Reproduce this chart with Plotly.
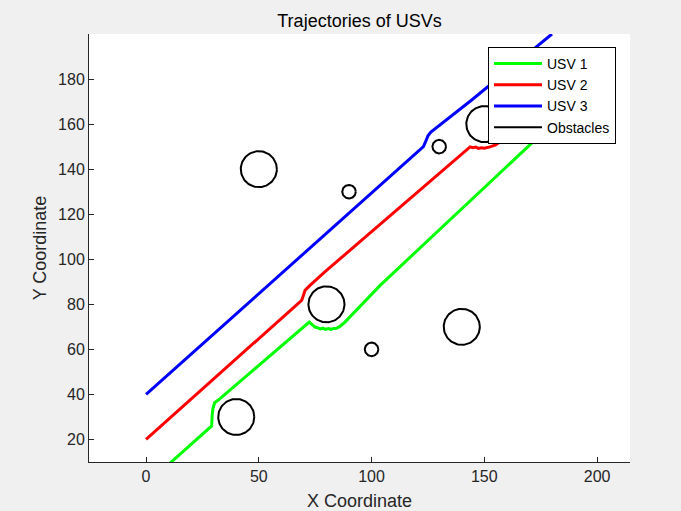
import numpy as np
import plotly.graph_objects as go

# ---- data ----
usv1_x = [0, 29.1, 29.3, 29.6, 30.4, 32.8, 72.4, 73.6, 74.9, 76.0, 77.2, 78.4, 79.6, 80.8, 82.0, 83.2, 84.5, 86.0, 88.2, 103.8, 180]
usv1_y = [0, 26.0, 30.5, 33.5, 36.3, 38.1, 72.1, 70.9, 69.9, 69.6, 69.1, 69.4, 68.9, 69.2, 68.9, 69.3, 69.4, 70.2, 72.1, 88.4, 160]

usv2_x = [0, 69.0, 69.8, 70.5, 72.7, 79.4, 143.7, 145.0, 146.2, 147.4, 148.6, 150.0, 152.5, 155.0, 157.0, 159.2, 161.4, 180]
usv2_y = [20, 81.8, 84.0, 86.2, 88.4, 94.5, 149.9, 149.5, 149.8, 149.2, 149.5, 149.3, 149.9, 150.8, 152.1, 154.4, 155.9, 180]

usv3_x = [0, 123.0, 124.0, 125.0, 126.3, 128.0, 144.4, 180]
usv3_y = [40, 150.0, 152.3, 154.8, 156.5, 157.8, 170.7, 200]

obs_x = [40, 80, 50, 90, 100, 140, 130, 150]
obs_y = [30, 80, 140, 130, 60, 70, 150, 160]
obs_r = [8, 8, 8, 3, 3, 8, 3, 8]

x_ticks = [0, 50, 100, 150, 200]
y_ticks = [20, 40, 60, 80, 100, 120, 140, 160, 180]

# ---- build obstacle outlines ----
t = np.linspace(0, 2 * np.pi, 121)
cx, cy = [], []
for ox, oy, r in zip(obs_x, obs_y, obs_r):
    cx += list(ox + r * np.cos(t)) + [None]
    cy += list(oy + r * np.sin(t)) + [None]

font = "Liberation Sans, Arial, Helvetica, sans-serif"
axis_col = "#262626"

fig = go.Figure()
fig.add_trace(go.Scatter(x=usv1_x, y=usv1_y, mode="lines", name="USV 1",
                         line=dict(color="#00FF00", width=3)))
fig.add_trace(go.Scatter(x=usv2_x, y=usv2_y, mode="lines", name="USV 2",
                         line=dict(color="#FF0000", width=3)))
fig.add_trace(go.Scatter(x=usv3_x, y=usv3_y, mode="lines", name="USV 3",
                         line=dict(color="#0000FF", width=3)))
fig.add_trace(go.Scatter(x=cx, y=cy, mode="lines", name="Obstacles",
                         line=dict(color="#000000", width=2)))

fig.update_layout(
    width=681, height=511,
    margin=dict(l=89, r=51, t=34, b=49),
    paper_bgcolor="#F0F0F0",
    plot_bgcolor="#FFFFFF",
    font=dict(family=font, size=16, color=axis_col),
    title=dict(text="Trajectories of USVs", x=0.5, xref="paper", xanchor="center",
               y=1 - 21 / 511, yref="container", yanchor="middle",
               font=dict(size=18, color="#000000")),
    showlegend=True,
    legend=dict(x=(488 - 89) / 541, y=(462 - 47) / 428, xanchor="left", yanchor="top",
                bgcolor="#FFFFFF", bordercolor="#000000", borderwidth=1,
                font=dict(size=14, color="#000000"), itemwidth=48,
                tracegroupgap=0),
)
fig.update_xaxes(range=[-25.3, 214.6], tickvals=x_ticks, ticks="inside", ticklen=5,
                 tickcolor=axis_col, showline=True, linecolor=axis_col, linewidth=1,
                 showgrid=False, zeroline=False, mirror=False, automargin=False,
                 title=dict(text="X Coordinate", font=dict(size=18), standoff=13))
fig.update_yaxes(range=[10, 200], tickvals=y_ticks, ticks="inside", ticklen=5,
                 tickcolor=axis_col, showline=True, linecolor=axis_col, linewidth=1,
                 showgrid=False, zeroline=False, mirror=False, automargin=False,
                 title=dict(text="Y Coordinate", font=dict(size=18), standoff=6))

fig.write_html("out.html")
